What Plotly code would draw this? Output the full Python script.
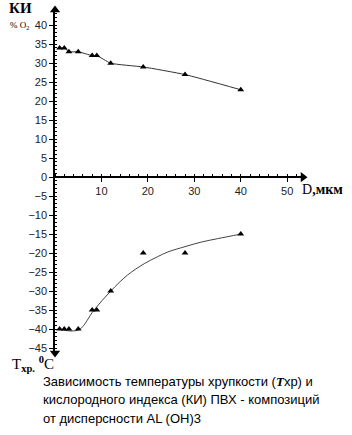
import plotly.graph_objects as go

# Data
D_ki = [1, 2, 3, 5, 8, 9, 12, 19, 28, 40]
KI = [34, 34, 33, 33, 32, 32, 30, 29, 27, 23]

D_t = [1, 2, 3, 5, 8, 9, 12, 19, 28, 40]
T_hr = [-40, -40, -40, -40, -35, -35, -30, -20, -20, -15]

# Trend curve for brittleness temperature
D_trend = [1, 3.5, 5.4, 8.4, 12, 15.6, 19.2, 22, 24.3, 28, 31.5, 35, 40]
T_trend = [-40, -40.5, -40, -35, -30, -25.8, -22.8, -21, -19.7, -18.3, -17.1, -16.2, -15]

x_ticks = [10, 20, 30, 40, 50]
y_ticks = list(range(-45, 41, 5))

W, H = 352, 435
ML, MR, MT, MB = 55, 49, 10, 82
XR = [0, 53.4]
YR = [-46.3, 44.0]
PW, PH = W - ML - MR, H - MT - MB

def px(x):
    return (x - ML) / PW

def py(y):
    return (H - MB - y) / PH

fig = go.Figure()

fig.add_trace(go.Scatter(
    x=D_ki, y=KI, mode="lines+markers",
    line=dict(color="#333", width=1, shape="spline", smoothing=0.5),
    marker=dict(symbol="triangle-up", size=6, color="black"),
    showlegend=False, cliponaxis=False))

fig.add_trace(go.Scatter(
    x=D_trend, y=T_trend, mode="lines",
    line=dict(color="#444", width=1, shape="spline", smoothing=1.0),
    showlegend=False))

fig.add_trace(go.Scatter(
    x=D_t, y=T_hr, mode="markers",
    marker=dict(symbol="triangle-up", size=6, color="black"),
    showlegend=False, cliponaxis=False))

# Axis arrowheads at the ends of the axes
fig.add_trace(go.Scatter(
    x=[XR[0], XR[0], XR[1]], y=[YR[1], YR[0], 0], mode="markers",
    marker=dict(symbol=["triangle-up", "triangle-down", "triangle-right"],
                size=9, color="black"),
    showlegend=False, cliponaxis=False, hoverinfo="skip"))

fig.update_layout(
    width=W, height=H,
    margin=dict(l=ML, r=MR, t=MT, b=MB),
    paper_bgcolor="white", plot_bgcolor="white",
    xaxis=dict(
        range=XR, showgrid=False, zeroline=False,
        anchor="free", position=(0 - YR[0]) / (YR[1] - YR[0]),
        showline=True, linecolor="black", linewidth=2,
        tickmode="array", tickvals=x_ticks,
        ticks="outside", ticklen=4, tickcolor="black", tickwidth=1,
        minor=dict(ticks="inside", tickmode="linear", tick0=0, dtick=2,
                   ticklen=2, tickcolor="black"),
        tickfont=dict(family="Liberation Sans, Arial", size=11, color="#222"),
    ),
    yaxis=dict(
        range=YR, showgrid=False, zeroline=False,
        showline=True, linecolor="black", linewidth=1.5,
        tickmode="array", tickvals=y_ticks,
        ticks="outside", ticklen=4, tickcolor="black", tickwidth=1,
        minor=dict(ticks="inside", tickmode="linear", tick0=0, dtick=1,
                   ticklen=2, tickcolor="black"),
        tickfont=dict(family="Liberation Sans, Arial", size=11, color="#222"),
    ),
)

serif = "Liberation Serif, Times New Roman, serif"
sans = "Liberation Sans, Arial, sans-serif"

def label(text, x, y, size, family=serif, xanchor="center"):
    fig.add_annotation(text=text, x=px(x), y=py(y), xref="paper", yref="paper",
                       showarrow=False, xanchor=xanchor, yanchor="middle",
                       font=dict(family=family, size=size, color="black"))

label("<b>КИ</b>", 20, 8, 15)
label("% O<sub>2</sub>", 19, 25, 9)
label("T<sub><b>хр.</b></sub> <sup><b>0</b></sup>C", 33, 364, 15)
label("D<b>,мкм</b>", 322, 189, 14)

cap_lines = [
    "Зависимость температуры хрупкости (<span style='font-family:Liberation Serif'><b><i>T</i></b></span>хр) и",
    "кислородного индекса (КИ) ПВХ - композиций",
    "от дисперсности AL (OH)3",
]
for i, t in enumerate(cap_lines):
    label(t, 41, 381 + i * 18.5, 13, family=sans, xanchor="left")

fig.write_html("out.html")
